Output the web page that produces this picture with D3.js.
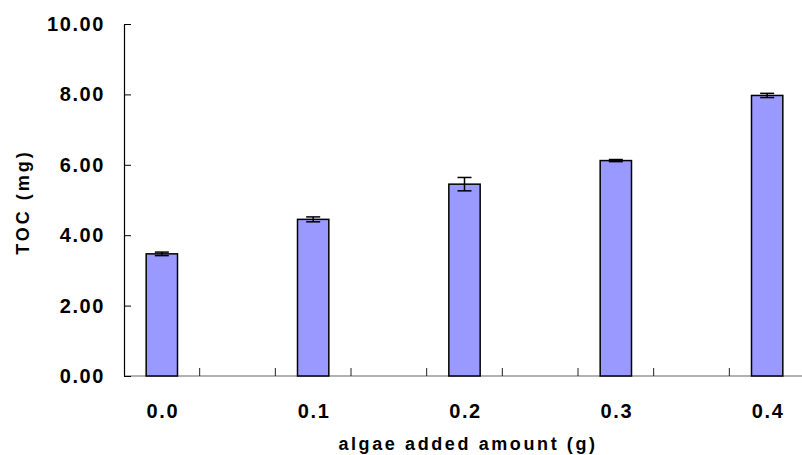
<!DOCTYPE html>
<html>
<head>
<meta charset="utf-8">
<script src="https://cdn.jsdelivr.net/npm/d3@7"></script>
<style>
  html, body { margin: 0; padding: 0; background: #fff; }
  svg text { font-family: "Liberation Sans", "DejaVu Sans", sans-serif; font-weight: bold; fill: #000; }
</style>
</head>
<body>
<svg id="chart" width="802" height="455"></svg>
<script>
const categories = ["0.0", "0.1", "0.2", "0.3", "0.4"];
const tocValues = [3.47, 4.45, 5.45, 6.12, 7.97];
const tocErrors = [0.05, 0.07, 0.19, 0.03, 0.06];
const yTicks = [0, 2, 4, 6, 8, 10];

(function () {
const svg = d3.select("#chart");
const pLeft = 124, pRight = 805, pTop = 24, pBottom = 376;

const step = (pRight - pLeft) / 4.5;
const x = d3.scalePoint().domain(categories).range([pLeft + step * 0.25, pRight - step * 0.25]);
const y = d3.scaleLinear().domain([0, 10]).range([pBottom, pTop]);
const barW = step * 0.207;

// X axis line
svg.append("line").attr("x1", pLeft).attr("x2", pRight).attr("y1", pBottom).attr("y2", pBottom)
  .attr("stroke", "#666").attr("stroke-width", 1.2);

// X ticks at half-steps (inward)
const xTickPos = [];
categories.forEach((c, i) => {
  if (i > 0) xTickPos.push(x(c) - step * 0.25);
  xTickPos.push(x(c) + step * 0.25);
});
svg.selectAll(".xtick").data(xTickPos.filter(p => p < pRight - 1)).enter().append("line")
  .attr("x1", d => d).attr("x2", d => d).attr("y1", pBottom).attr("y2", pBottom - 8)
  .attr("stroke", "#222").attr("stroke-width", 1);

// Y axis
const yAxis = d3.axisLeft(y).tickValues(yTicks).tickSizeInner(-7).tickSizeOuter(0)
  .tickFormat(d3.format(".2f")).tickPadding(19);
const gy = svg.append("g").attr("transform", `translate(${pLeft},0)`).call(yAxis);
gy.select(".domain").attr("stroke", "#000").attr("stroke-width", 1.2);
gy.selectAll(".tick line").attr("stroke", "#000").attr("stroke-width", 1);
gy.selectAll(".tick text").style("font-size", "20px").style("letter-spacing", "1.6px")
  .attr("fill", "#000");

// Bars
svg.selectAll(".bar").data(categories).enter().append("rect")
  .attr("x", d => x(d) - barW / 2)
  .attr("y", (d, i) => y(tocValues[i]))
  .attr("width", barW)
  .attr("height", (d, i) => pBottom - y(tocValues[i]))
  .attr("fill", "#9999FF").attr("stroke", "#000").attr("stroke-width", 1.5);

// Error bars
const capW = 7;
const eb = svg.selectAll(".err").data(categories).enter().append("g");
eb.append("line")
  .attr("x1", d => x(d)).attr("x2", d => x(d))
  .attr("y1", (d, i) => y(tocValues[i] + tocErrors[i]))
  .attr("y2", (d, i) => y(tocValues[i] - tocErrors[i]))
  .attr("stroke", "#000").attr("stroke-width", 1.5);
eb.append("line")
  .attr("x1", d => x(d) - capW).attr("x2", d => x(d) + capW)
  .attr("y1", (d, i) => y(tocValues[i] + tocErrors[i]))
  .attr("y2", (d, i) => y(tocValues[i] + tocErrors[i]))
  .attr("stroke", "#000").attr("stroke-width", 1.5);
eb.append("line")
  .attr("x1", d => x(d) - capW).attr("x2", d => x(d) + capW)
  .attr("y1", (d, i) => y(tocValues[i] - tocErrors[i]))
  .attr("y2", (d, i) => y(tocValues[i] - tocErrors[i]))
  .attr("stroke", "#000").attr("stroke-width", 1.5);

// X labels
svg.selectAll(".xlab").data(categories).enter().append("text")
  .attr("x", d => x(d) + 1).attr("y", 418)
  .attr("text-anchor", "middle")
  .style("font-size", "20px").style("letter-spacing", "1.6px")
  .text(d => d);

// Axis titles
svg.append("text").attr("x", 468).attr("y", 450).attr("text-anchor", "middle")
  .style("font-size", "18px").style("letter-spacing", "2.6px")
  .text("algae added amount (g)");

svg.append("text").attr("transform", `translate(29,202) rotate(-90)`)
  .attr("text-anchor", "middle")
  .style("font-size", "18px").style("letter-spacing", "3px")
  .text("TOC (mg)");
})();
</script>
</body>
</html>
